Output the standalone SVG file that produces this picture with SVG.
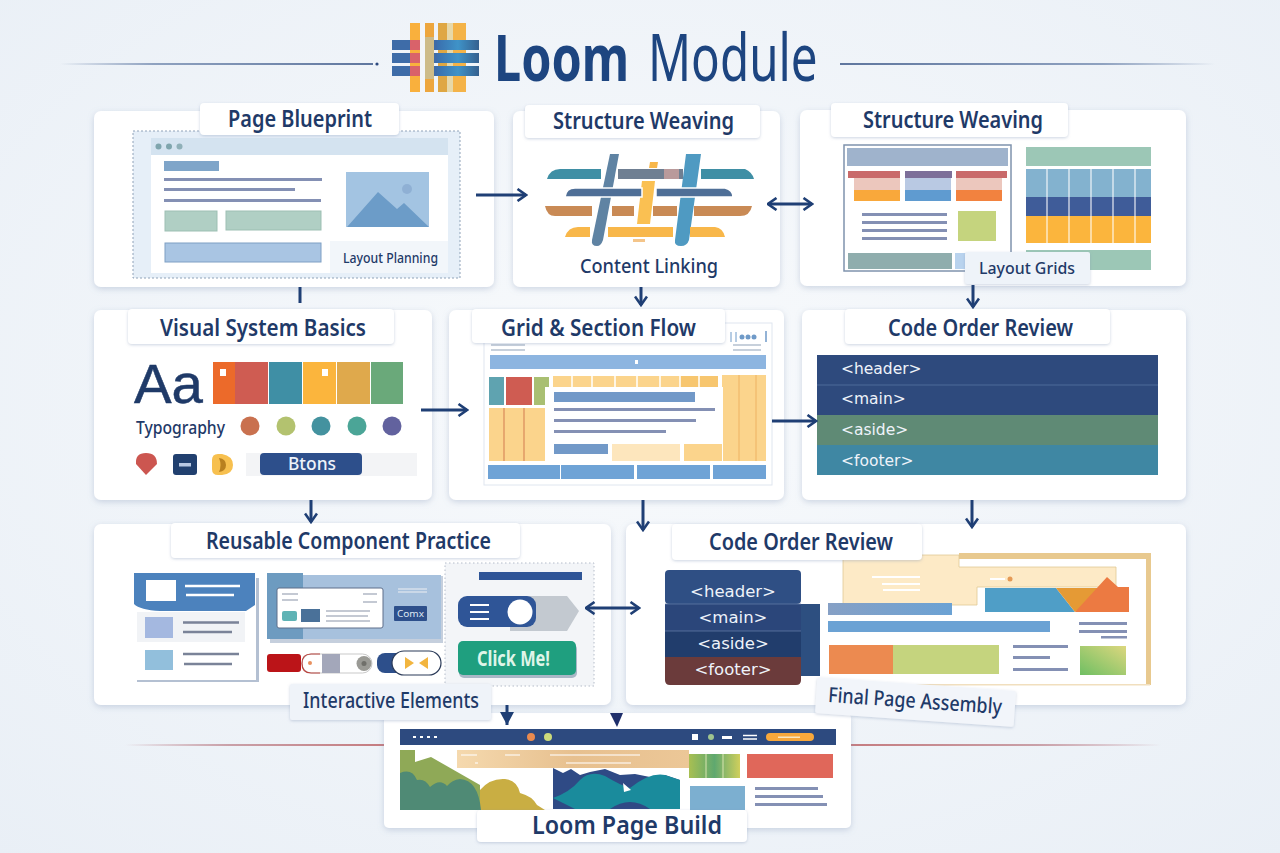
<svg xmlns="http://www.w3.org/2000/svg" width="1280" height="853" viewBox="0 0 1280 853">
<defs>
<radialGradient id="bg" cx="50%" cy="45%" r="75%"><stop offset="0" stop-color="#f8fafc"/><stop offset="1" stop-color="#e9eff6"/></radialGradient>
<linearGradient id="fadeL" x1="0" x2="1"><stop offset="0" stop-color="#7f93b5" stop-opacity="0"/><stop offset=".3" stop-color="#8fa2c0"/><stop offset="1" stop-color="#5f769e"/></linearGradient>
<linearGradient id="fadeR" x1="0" x2="1"><stop offset="0" stop-color="#5f769e"/><stop offset=".7" stop-color="#8fa2c0"/><stop offset="1" stop-color="#7f93b5" stop-opacity="0"/></linearGradient>
<linearGradient id="redL" x1="0" x2="1"><stop offset="0" stop-color="#c08a94" stop-opacity="0"/><stop offset=".4" stop-color="#c9a0a8"/><stop offset="1" stop-color="#c57c80"/></linearGradient>
<linearGradient id="redR" x1="0" x2="1"><stop offset="0" stop-color="#c57c80"/><stop offset=".6" stop-color="#c9a0a8"/><stop offset="1" stop-color="#c08a94" stop-opacity="0"/></linearGradient>
<linearGradient id="tan" x1="0" x2="1"><stop offset="0" stop-color="#f5d9ae"/><stop offset=".5" stop-color="#e7c08f"/><stop offset="1" stop-color="#ecc797"/></linearGradient>
<linearGradient id="strip" x1="0" x2="1"><stop offset="0" stop-color="#86a0c5"/><stop offset="1" stop-color="#6ba2d4"/></linearGradient>
<linearGradient id="gsq" x1="0" y1="1" x2="1" y2="0"><stop offset="0" stop-color="#6fbf63"/><stop offset="1" stop-color="#dcd77e"/></linearGradient>
<linearGradient id="lgrn" x1="0" x2="1"><stop offset="0" stop-color="#a8bf52"/><stop offset=".5" stop-color="#5fa86f"/><stop offset="1" stop-color="#d0cf5c"/></linearGradient>
<linearGradient id="lblue" x1="0" x2="1"><stop offset="0" stop-color="#3a6fae"/><stop offset=".5" stop-color="#3f93c8"/><stop offset="1" stop-color="#35608f"/></linearGradient>
<filter id="sh" x="-5%" y="-8%" width="110%" height="120%"><feDropShadow dx="0" dy="2" stdDeviation="3" flood-color="#7f93b5" flood-opacity=".35"/></filter>
<filter id="sm" x="-5%" y="-10%" width="110%" height="125%"><feDropShadow dx="0" dy="1" stdDeviation="1.500" flood-color="#7f93b5" flood-opacity=".4"/></filter>
<marker id="a" viewBox="0 0 12 14" refX="10.500" refY="7" markerWidth="12" markerHeight="14" markerUnits="userSpaceOnUse" orient="auto-start-reverse"><path d="M2 1 L10.500 7 L2 13" fill="none" stroke="#1f3f75" stroke-width="2.600"/></marker>
<marker id="s" viewBox="0 0 14 14" refX="13" refY="7" markerWidth="14" markerHeight="14" markerUnits="userSpaceOnUse" orient="auto"><path d="M0 0 L13 7 L0 14 Z" fill="#1f3f75"/></marker>
</defs>
<style>
.card{fill:#fff;filter:url(#sh)}
.pill{fill:#fff;filter:url(#sm)}
.t{font-family:"Noto Sans","Open Sans",sans-serif;font-weight:600;fill:#1f3a68;font-size:23.500px}
.s{font-size:17px;font-weight:500}
.c{font-family:"DejaVu Sans",sans-serif;fill:#eef3fa;font-size:15.500px}
.ln{fill:#8490b4}
.con{fill:none;stroke:#1f3f75;stroke-width:3}
</style>
<rect width="1280" height="853" fill="url(#bg)"/>

<g id="title">
<rect x="60" y="63" width="313" height="2" fill="url(#fadeL)"/>
<circle cx="377" cy="64" r="1.600" fill="#2d4a7f"/>
<rect x="840" y="63" width="375" height="2" fill="url(#fadeR)"/>
<g id="logo">
<rect x="410" y="23" width="10" height="69" fill="#f9b03d"/><rect x="438" y="23" width="9" height="69" fill="#dfa743"/><rect x="447" y="23" width="6" height="69" fill="#e7d8a8"/><rect x="453" y="23" width="13" height="69" fill="#f4b348"/>
<rect x="392" y="40" width="87" height="10" fill="#3e6ca8"/><rect x="392" y="53" width="87" height="10" fill="#3e6ca8"/><rect x="392" y="66" width="87" height="10" fill="#3e6ca8"/>
<rect x="410" y="40" width="10" height="10" fill="#d9626a"/><rect x="410" y="53" width="10" height="10" fill="#d9626a"/><rect x="410" y="66" width="10" height="10" fill="#d9626a"/>
<rect x="420" y="23" width="5" height="69" fill="#f2f5f8"/><rect x="425" y="23" width="9" height="69" fill="#eda63d"/><rect x="425" y="37" width="9" height="42" fill="#cdbb88"/>
<rect x="437" y="40" width="42" height="10" fill="url(#lblue)"/><rect x="437" y="53" width="42" height="10" fill="url(#lblue)"/><rect x="437" y="66" width="42" height="10" fill="url(#lblue)"/>
</g>
<text transform="translate(494 81) scale(.8 1)" font-family="Noto Sans,sans-serif" font-weight="700" font-size="65" textLength="169" lengthAdjust="spacingAndGlyphs" fill="#1d4580">Loom</text>
<text transform="translate(648 81) scale(.8 1)" font-family="Noto Sans,sans-serif" font-weight="400" font-size="65" textLength="212" lengthAdjust="spacingAndGlyphs" fill="#1d4580">Module</text>
<rect x="125" y="744" width="259" height="2" fill="url(#redL)"/>
<rect x="851" y="744" width="310" height="2" fill="url(#redR)"/>
</g>

<g id="loom-page-build">
<rect class="card" x="384" y="713" width="467" height="115" rx="5"/>
<rect x="400" y="729" width="436" height="16" fill="#2d4a7f"/>
<path d="M413 737H438" stroke="#fff" stroke-width="2" stroke-dasharray="3 4"/>
<circle cx="531" cy="737" r="4" fill="#e98a4f"/><circle cx="548" cy="737" r="4" fill="#cddb7b"/>
<rect x="692" y="734" width="6" height="6" fill="#fff"/><circle cx="711" cy="737" r="3" fill="#9fc48f"/><rect x="722" y="736" width="10" height="3" fill="#fff"/><path d="M743 735.500H757M743 739H757" stroke="#fff" stroke-width="1.500"/>
<rect x="766" y="733" width="48" height="8" rx="4" fill="#f9a83b"/><rect x="778" y="736.500" width="22" height="1.500" fill="#fde6bd"/>
<path d="M400 750H415V762L431 757 480 785 480 810H400Z" fill="#8fa957"/>
<path d="M480 810V790Q490 778 505 779 517 780 520 793 532 796 537 805L545 810Z" fill="#c9ae43"/>
<path d="M400 810V773Q412 768 417 780 425 778 430 787 440 778 447 786 452 780 460 779 478 780 481 810Z" fill="#4f8a75"/>
<path d="M553 768L563 773 571 769 580 775 590 772 605 769 620 775 635 774 650 777 665 775 680 780V809H553Z" fill="#2f4a85"/>
<path d="M553 798Q570 792 580 780 590 770 605 776 620 785 630 788 650 772 665 775L680 780V809H650Q630 795 610 809H575Z" fill="#1a8b9c"/>
<path d="M623 783L631 790 624 792Z" fill="#fff"/>
<rect x="457" y="750" width="232" height="18" fill="url(#tan)"/>
<path d="M461 755H477M505 755H520M550 755H640M566 763H631M475 763H478" stroke="#fff" stroke-opacity=".7" stroke-width="1.500"/>
<rect x="689" y="754" width="51" height="24" fill="url(#lgrn)"/><path d="M706 754V778M723 754V778" stroke="#d9e4b0"/>
<rect x="747" y="754" width="86" height="24" fill="#e0675a"/>
<rect x="690" y="786" width="55" height="24" fill="#7cafd0"/>
<rect class="ln" x="755" y="787" width="63" height="3"/><rect class="ln" x="755" y="795" width="68" height="3"/><rect class="ln" x="755" y="803" width="72" height="3"/>
<rect class="pill" x="477" y="810" width="270" height="32" rx="4"/>
<text class="t" x="532" y="834" style="font-size:26px" textLength="190" lengthAdjust="spacingAndGlyphs">Loom Page Build</text>
</g>

<g id="page-blueprint">
<rect class="card" x="94" y="111" width="400" height="176" rx="7"/>
<rect x="133" y="131" width="327" height="147" fill="#e6eff8" stroke="#8fa2b8" stroke-width="1" stroke-dasharray="2 2"/>
<rect x="151" y="138" width="297" height="135" fill="#fff"/>
<rect x="151" y="138" width="297" height="17" fill="#d4e3f0"/>
<circle cx="158.500" cy="146.500" r="3" fill="#7fa5ad"/><circle cx="169" cy="146.500" r="3" fill="#7fa5ad"/><circle cx="179.500" cy="146.500" r="3" fill="#8fb0b8"/>
<rect x="164" y="161" width="55" height="10" fill="#7fa5c9"/>
<rect class="ln" x="164" y="178" width="158" height="3"/><rect class="ln" x="164" y="188" width="131" height="3"/><rect class="ln" x="164" y="199" width="157" height="3"/>
<rect x="165" y="211" width="52" height="20" fill="#b0cfc4" stroke="#9dbfb3"/><rect x="226" y="211" width="95" height="19" fill="#b0cfc4" stroke="#9dbfb3"/>
<rect x="165" y="243" width="156" height="19" fill="#a9c5e3" stroke="#7f9fc4"/>
<rect x="346" y="172" width="83" height="55" fill="#a3c4e2"/>
<path d="M347 227L378 192 397 209 404 203 429 227Z" fill="#6c9cc8"/>
<circle cx="407" cy="189" r="5" fill="#8fb0d4"/>
<rect x="330" y="241" width="118" height="32" fill="#f2f6fa"/>
<text class="t s" x="343" y="263" style="font-size:15px" textLength="95" lengthAdjust="spacingAndGlyphs">Layout Planning</text>
<rect class="pill" x="200" y="103" width="199" height="32" rx="4"/>
<text class="t" x="228" y="127" textLength="144" lengthAdjust="spacingAndGlyphs">Page Blueprint</text>
</g>

<g id="structure-weaving-a">
<rect class="card" x="513" y="111" width="267" height="176" rx="7"/>
<path d="M547 179Q550 169 560 169H601V179Z" fill="#3f8fa5"/>
<rect x="618" y="169" width="65" height="10" fill="#6f7f92"/><rect x="664" y="169" width="15" height="10" fill="#d9a5a0" fill-opacity=".7"/>
<path d="M701 169H745Q752 172 754 179H701Z" fill="#3f8fa5"/>
<path d="M650 162H658L657 168H649Z" fill="#f8b74a"/>
<path d="M642 181H655L650 224H637Z" fill="#fac052"/>
<path d="M633 239H645V242H633Z" fill="#f4c58a"/>
<path d="M610 154H619L603 240Q601 246 597 246 591 246 592 240Z" fill="#5f83a3"/>
<path d="M686 154H701L689 240Q687 246 681 246 674 246 675 240Z" fill="#4f9ac2"/>
<path d="M565 197Q566 188 575 188H642V197ZM656 188H725Q733 190 733 197H656Z" fill="#4f6f97" stroke="#fff" stroke-width="1.500"/>
<path d="M545 206H592V216H555Q547 216 545 206ZM612 206H634V216H612ZM653 206H677V216H653ZM694 206H752Q750 216 740 216H694Z" fill="#c98a55"/>
<path d="M565 237Q568 227 578 227H590V237ZM608 227H673V237H608ZM690 227H715Q723 228 725 237H690Z" fill="#f8b74a"/>
<text class="t s" x="580" y="273" style="font-size:20px" textLength="138" lengthAdjust="spacingAndGlyphs">Content Linking</text>
<rect class="pill" x="525" y="105" width="235" height="33" rx="4"/>
<text class="t" x="553" y="129" textLength="181" lengthAdjust="spacingAndGlyphs">Structure Weaving</text>
</g>

<g id="structure-weaving-b">
<rect class="card" x="800" y="110" width="386" height="176" rx="7"/>
<rect x="844" y="145" width="167" height="126" fill="#fff" stroke="#7f93ad" stroke-width="1.500"/>
<rect x="847" y="148" width="161" height="18" fill="#9fb3cc"/>
<rect x="848" y="171" width="52" height="7" fill="#c96a6a"/><rect x="905" y="171" width="47" height="7" fill="#7d6f99"/><rect x="956" y="171" width="51" height="7" fill="#c96a6a"/>
<rect x="854" y="178" width="46" height="12" fill="#ecc7bd"/><rect x="905" y="178" width="46" height="12" fill="#b9c9e3"/><rect x="956" y="178" width="46" height="12" fill="#ecc7bd"/>
<rect x="854" y="190" width="46" height="11" fill="#f9a83b"/><rect x="905" y="190" width="46" height="11" fill="#5f9bd0"/><rect x="956" y="190" width="46" height="11" fill="#f2823f"/>
<rect class="ln" x="862" y="213" width="85" height="3"/><rect class="ln" x="862" y="221" width="85" height="3"/><rect class="ln" x="862" y="229" width="85" height="3"/><rect class="ln" x="862" y="237" width="85" height="3"/>
<rect x="958" y="211" width="38" height="30" fill="#c5d47e"/>
<rect x="848" y="253" width="104" height="16" fill="#8fadad"/><rect x="955" y="253" width="15" height="16" fill="#b9d3ee"/>
<rect x="1026" y="147" width="125" height="19" fill="#9cc7b6"/>
<rect x="1026" y="169" width="125" height="28" fill="#83b2cf"/><rect x="1026" y="197" width="125" height="19" fill="#3f5c99"/><rect x="1026" y="216" width="125" height="27" fill="#fbb53d"/>
<path d="M1047 169V243M1069 169V243M1091 169V243M1113 169V243M1135 169V243" stroke="#fff" stroke-opacity=".7" stroke-width="1.500"/>
<rect x="1026" y="250" width="125" height="20" fill="#9cc7b6"/>
<rect class="pill" x="965" y="252" width="125" height="32" rx="2" style="fill:#eef3f9"/>
<text class="t s" x="979" y="274" style="font-size:17px" textLength="96" lengthAdjust="spacingAndGlyphs">Layout Grids</text>
<rect class="pill" x="831" y="103" width="237" height="34" rx="4"/>
<text class="t" x="863" y="128" textLength="180" lengthAdjust="spacingAndGlyphs">Structure Weaving</text>
</g>

<g id="visual-system-basics">
<rect class="card" x="94" y="310" width="338" height="190" rx="7"/>
<text x="134" y="403" font-family="Liberation Sans,sans-serif" font-size="56" fill="#1f3a68" stroke="#1f3a68" stroke-width=".5" textLength="69" lengthAdjust="spacingAndGlyphs">Aa</text>
<rect x="213" y="362" width="22" height="42" fill="#ec6a2a"/><rect x="220" y="369" width="6" height="7" fill="#fff"/>
<rect x="235" y="362" width="33" height="42" fill="#cf5c52"/><rect x="269" y="362" width="33" height="42" fill="#3f8fa5"/><rect x="303" y="362" width="33" height="42" fill="#fbb53d"/><rect x="322" y="369" width="6" height="7" fill="#fff"/><rect x="337" y="362" width="33" height="42" fill="#dfa94c"/><rect x="371" y="362" width="32" height="42" fill="#6aa97a"/>
<text class="t s" x="136" y="434" style="font-size:18px" textLength="89" lengthAdjust="spacingAndGlyphs">Typography</text>
<circle cx="250" cy="426" r="9.500" fill="#c9714f"/><circle cx="286" cy="426" r="9.500" fill="#b3c26f"/><circle cx="321" cy="426" r="9.500" fill="#44929f"/><circle cx="357" cy="426" r="9.500" fill="#4ba597"/><circle cx="392" cy="426" r="9.500" fill="#62629e"/>
<path d="M146 475L136 464Q135 453 146 453 157 453 157 464Z" fill="#cc5650"/>
<rect x="173" y="454" width="24" height="21" rx="3" fill="#21406f"/><rect x="179" y="463" width="12" height="3.500" fill="#b9c9e3"/>
<path d="M212 460Q212 454 218 454H222Q233 456 233 465 233 474 222 475H218Q212 475 212 469Z" fill="#f7c04f"/><path d="M219 458Q226 459 226 465 226 471 219 472Q222 465 219 458Z" fill="#b9801f"/>
<rect x="246" y="453" width="171" height="23" fill="#f3f4f6"/>
<rect x="260" y="453" width="102" height="22" rx="4" fill="#2d4f8b"/>
<text class="t s" x="288" y="470" style="font-size:18px;fill:#eef3fa" textLength="48" lengthAdjust="spacingAndGlyphs">Btons</text>
<rect class="pill" x="128" y="309" width="266" height="35" rx="4"/>
<text class="t" x="160" y="336" textLength="206" lengthAdjust="spacingAndGlyphs">Visual System Basics</text>
</g>

<g id="grid-section-flow">
<rect class="card" x="449" y="310" width="335" height="190" rx="7"/>
<rect x="484" y="323" width="288" height="162" fill="#fff" stroke="#dfe6ef"/>
<path d="M731 332V342M736 332V342" stroke="#6f9ac8" stroke-width="1"/><g fill="#6f9ac8"><circle cx="742" cy="337" r="2.500"/><circle cx="748" cy="337" r="2.500"/><circle cx="754" cy="337" r="2.500"/></g><path d="M766 331V342" stroke="#6f9ac8" stroke-width="1.500"/>
<path d="M491 345H525M491 350H525M733 345H761M733 350H761" stroke="#8fa2b8" stroke-width="1.200"/>
<rect x="490" y="355" width="276" height="14" fill="#8db5e0"/><rect x="635" y="360" width="3" height="4" fill="#fff"/>
<rect x="489" y="377" width="15" height="28" fill="#5fa3b0"/><rect x="506" y="377" width="26" height="28" fill="#cf5c52"/><rect x="534" y="377" width="15" height="28" fill="#a9bf72"/>
<rect x="553" y="376" width="165" height="11" fill="#fbd48c"/><rect x="680" y="376" width="38" height="11" fill="#f7c66f"/>
<path d="M572 376V387M592 376V387M615 376V387M637 376V387M660 376V387M680 376V387M699 376V387" stroke="#fff" stroke-width="1.500"/>
<rect x="722" y="375" width="44" height="86" fill="#fbd48c"/><path d="M739 375V461M756 375V461" stroke="#f0b86a" stroke-width="1.200"/>
<rect x="489" y="408" width="57" height="53" fill="#fbd48c"/><path d="M504 408V461M524 408V461M548 445V461" stroke="#d98a5a" stroke-width="1.200"/>
<rect x="545" y="387" width="178" height="74" fill="#fff"/>
<rect x="554" y="392" width="141" height="10" fill="#7299c8"/>
<rect class="ln" x="554" y="408" width="161" height="3"/><rect class="ln" x="554" y="419" width="142" height="3"/><rect class="ln" x="554" y="430" width="112" height="3"/>
<rect x="554" y="444" width="54" height="10" fill="#7299c8"/><rect x="612" y="444" width="68" height="17" fill="#fde6bd"/><rect x="684" y="444" width="38" height="17" fill="#fbd48c"/>
<rect x="488" y="465" width="72" height="14" fill="#6fa3d6"/><rect x="561" y="465" width="73" height="14" fill="#6fa3d6"/><rect x="637" y="465" width="73" height="14" fill="#6fa3d6"/><rect x="713" y="465" width="53" height="14" fill="#6fa3d6"/>
<rect class="pill" x="472" y="309" width="253" height="34" rx="4"/>
<text class="t" x="501" y="336" textLength="195" lengthAdjust="spacingAndGlyphs">Grid &amp; Section Flow</text>
</g>

<g id="code-order-review-a">
<rect class="card" x="802" y="310" width="384" height="190" rx="7"/>
<rect x="817" y="355" width="341" height="30" fill="#2e4a7d"/><rect x="817" y="385" width="341" height="30" fill="#2e4a7d"/><rect x="817" y="415" width="341" height="30" fill="#5f8a75"/><rect x="817" y="445" width="341" height="30" fill="#3f87a3"/>
<path d="M817 385H1158" stroke="#4d6a9a"/>
<text class="c" x="841" y="374">&lt;header&gt;</text><text class="c" x="841" y="404">&lt;main&gt;</text><text class="c" x="841" y="435">&lt;aside&gt;</text><text class="c" x="841" y="466">&lt;footer&gt;</text>
<rect class="pill" x="845" y="309" width="265" height="35" rx="4"/>
<text class="t" x="888" y="336" textLength="185" lengthAdjust="spacingAndGlyphs">Code Order Review</text>
</g>

<g id="reusable-component-practice">
<rect class="card" x="94" y="524" width="517" height="181" rx="7"/>
<rect x="137" y="578" width="122" height="104" fill="#b4c0d2"/>
<rect x="134" y="575" width="122" height="105" fill="#fff"/>
<path d="M134 573H255V605L246 611 160 611Q140 610 134 604Z" fill="#4c82bd"/>
<rect x="146" y="580" width="30" height="21" fill="#fff"/>
<path d="M185 586H240M186 595H234" stroke="#fff" stroke-width="2.500"/>
<rect x="137" y="612" width="108" height="30" fill="#f1f3f6"/>
<rect x="145" y="617" width="28" height="21" fill="#a4b8e0"/>
<path d="M183 622.500H239M183 632H232M183 654H239M184 664H232" stroke="#7a8398" stroke-width="2.500"/>
<rect x="145" y="650" width="28" height="20" fill="#92bfdc"/>
<rect x="270" y="576" width="173" height="67" fill="#c5cfdd"/>
<rect x="267" y="575" width="174" height="64" fill="#a7c1dd"/>
<rect x="267" y="573" width="36" height="66" fill="#6d9bc0"/>
<rect x="277" y="588" width="106" height="40" rx="2" fill="#fff" stroke="#5f6f8a"/>
<path d="M282 594H298M282 600H298M363 594H377M363 602H377M326 611H370M326 616H368M326 621H370" stroke="#8a94a8" stroke-width="1.200"/>
<rect x="282" y="611" width="15" height="10" rx="2" fill="#5fb3b5"/><rect x="301" y="609" width="19" height="13" fill="#4a7199"/>
<path d="M398 589H427M398 592H427" stroke="#d6e0ec" stroke-width="1.500"/>
<rect x="394" y="606" width="33" height="15" rx="1" fill="#2d4f8b"/>
<text x="397" y="617" font-family="Noto Sans,sans-serif" font-size="9.500" fill="#dfe8f4" textLength="27" lengthAdjust="spacingAndGlyphs">Comx</text>
<rect x="267" y="654" width="34" height="18" rx="3" fill="#bb1418"/>
<rect x="302" y="654" width="70" height="19" rx="9.500" fill="#fff" stroke="#c9c9c9"/>
<path d="M320 654H311Q302 654 302 663.500 302 673 311 673H320" fill="none" stroke="#b9443f" stroke-width="1.200"/>
<circle cx="310" cy="663" r="2" fill="#e8905f"/>
<rect x="322" y="654" width="18" height="19" fill="#a3a7ba"/>
<circle cx="364" cy="663.500" r="7.500" fill="#9a9a95"/><circle cx="364" cy="663.500" r="2.500" fill="#6f6f6a"/>
<rect x="377" y="653" width="30" height="20" rx="8" fill="#2d4f8b"/>
<rect x="392" y="651" width="49" height="24" rx="12" fill="#fff" stroke="#2a3a58" stroke-width="1.200"/>
<path d="M405 657L414 663 405 669ZM428 657L419 663 428 669Z" fill="#f2b53f"/>
<rect x="445" y="563" width="149" height="123" fill="#f3f5f8" stroke="#b4bcc9" stroke-dasharray="1.500 2.500"/>
<rect x="479" y="572" width="103" height="8" fill="#2f5597"/>
<path d="M510 596H567L579 611 567 631H510Z" fill="#c3c9d0"/>
<rect x="458" y="596" width="78" height="31" rx="9" fill="#2f5597"/>
<circle cx="520" cy="612" r="12.500" fill="#fff"/>
<path d="M470 605H489M470 612H489M470 619H489" stroke="#fff" stroke-width="2"/>
<rect x="459" y="644" width="118" height="34" rx="5" fill="#a9b7c6"/>
<rect x="458" y="641" width="118" height="34" rx="5" fill="#1f9f7f"/>
<text x="477" y="666" font-family="Noto Sans,sans-serif" font-weight="700" font-size="21" fill="#dff5e8" textLength="73" lengthAdjust="spacingAndGlyphs">Click Me!</text>
<rect class="pill" x="171" y="523" width="349" height="35" rx="4"/>
<text class="t" x="206" y="549" textLength="285" lengthAdjust="spacingAndGlyphs">Reusable Component Practice</text>
<rect class="pill" x="290" y="684" width="201" height="36" rx="2" style="fill:#eff3f9"/>
<text class="t s" x="303" y="708" style="font-size:21px" textLength="176" lengthAdjust="spacingAndGlyphs">Interactive Elements</text>
</g>

<g id="code-order-review-b">
<rect class="card" x="626" y="524" width="560" height="181" rx="7"/>
<rect x="830" y="556" width="320" height="129" fill="#fff"/>
<rect x="959" y="553" width="192" height="6" fill="#e8c98f"/><rect x="1146" y="553" width="5" height="132" fill="#e8c98f"/><rect x="830" y="684" width="320" height="1.500" fill="#f1dfbe"/>
<path d="M843 555H959V567H1116V587H977V605H843Z" fill="#fdeac6" stroke="#e0c995" stroke-width=".8"/>
<path d="M872 577H920M882 584H920M883 590H920M990 579H1005" stroke="#fff" stroke-width="1.800"/>
<circle cx="1010" cy="579" r="2.500" fill="#e59a55"/>
<path d="M985 588H1056L1075 612H985Z" fill="#4f9ec7"/>
<path d="M1056 588H1110L1075 612Z" fill="#e59a35"/>
<path d="M1075 612L1107 577 1118 587H1129V612Z" fill="#ec7a42"/>
<rect x="828" y="603" width="124" height="12" fill="url(#strip)"/>
<rect x="828" y="621" width="222" height="11" fill="#6ba2d4"/>
<rect class="ln" x="1079" y="622" width="48" height="3"/><rect class="ln" x="1079" y="630" width="48" height="3"/><rect class="ln" x="1101" y="636" width="26" height="2.500"/>
<rect x="829" y="645" width="64" height="29" fill="#ec8a50"/><rect x="893" y="645" width="106" height="29" fill="#c5d47e"/>
<rect class="ln" x="1013" y="645" width="55" height="3"/><rect class="ln" x="1013" y="656" width="37" height="3"/><rect class="ln" x="1013" y="668" width="55" height="3"/>
<rect x="1080" y="646" width="46" height="29" fill="url(#gsq)"/>
<rect x="780" y="604" width="40" height="72" fill="#2d4f80"/>
<rect x="665" y="570" width="136" height="34" rx="4" fill="#2f4f84"/><rect x="665" y="604" width="136" height="27" fill="#2b467a"/><rect x="665" y="631" width="136" height="26" fill="#213d6c"/>
<path d="M665 657H801V680Q801 685 796 685H670Q665 685 665 680Z" fill="#6b3b3b"/>
<path d="M665 604H801M665 631H801" stroke="#5f7aa5" stroke-width=".8"/>
<text class="c" x="733" y="597" text-anchor="middle" style="font-size:16.500px">&lt;header&gt;</text>
<text class="c" x="733" y="623" text-anchor="middle" style="font-size:16.500px">&lt;main&gt;</text>
<text class="c" x="733" y="649" text-anchor="middle" style="font-size:16.500px">&lt;aside&gt;</text>
<text class="c" x="733" y="675" text-anchor="middle" style="font-size:16.500px">&lt;footer&gt;</text>
<rect class="pill" x="672" y="524" width="250" height="36" rx="4"/>
<text class="t" x="709" y="550" textLength="184" lengthAdjust="spacingAndGlyphs">Code Order Review</text>
<g transform="rotate(4 915 702)">
<rect class="pill" x="816" y="684" width="199" height="36" rx="2" style="fill:#f2f5fa"/>
<text class="t s" x="828" y="708" style="font-size:21px" textLength="174" lengthAdjust="spacingAndGlyphs">Final Page Assembly</text>
</g>
</g>

<g id="connectors">
<path class="con" d="M476 195H526" marker-end="url(#a)"/>
<path class="con" d="M768 204H812" marker-start="url(#a)" marker-end="url(#a)"/>
<path class="con" d="M300 287V303"/>
<path class="con" d="M641 287V305" marker-end="url(#a)"/>
<path class="con" d="M973 285V307" marker-end="url(#a)"/>
<path class="con" d="M421 410H467" marker-end="url(#a)"/>
<path class="con" d="M772 421H816" marker-end="url(#a)"/>
<path class="con" d="M311 500V522" marker-end="url(#a)"/>
<path class="con" d="M643 500V530" marker-end="url(#a)"/>
<path class="con" d="M972 500V527" marker-end="url(#a)"/>
<path class="con" d="M586 608H639" marker-start="url(#a)" marker-end="url(#a)"/>
<path class="con" d="M507 705V725" marker-end="url(#s)"/>
<path d="M610 713H623L617 727Z" fill="#1f2f6b"/>
</g>
</svg>
